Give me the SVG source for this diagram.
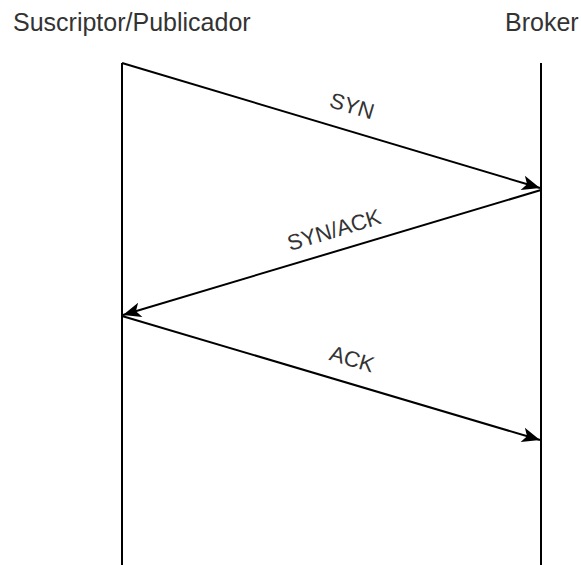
<svg xmlns="http://www.w3.org/2000/svg" width="581" height="565" viewBox="0 0 581 565">
  <style>
    .title { font-family: "Liberation Sans", Arial, sans-serif; font-size: 25px; fill: #333333; }
    .label { font-family: "Liberation Sans", Arial, sans-serif; font-size: 22px; fill: #333333; text-anchor: middle; dominant-baseline: central; }
    .lifeline { stroke: #000000; stroke-width: 2; fill: none; }
    .msg { stroke: #000000; stroke-width: 2; fill: none; marker-end: url(#arrow); }
  </style>
  <defs>
    <marker id="arrow" markerUnits="userSpaceOnUse" markerWidth="24" markerHeight="20" viewBox="-20 -10 24 20" refX="0" refY="0" orient="auto">
      <path d="M0,0 L-18,-7.5 L-13.5,0 L-18,7.5 Z" fill="#000000"/>
    </marker>
  </defs>
  <rect width="581" height="565" fill="#ffffff"/>

  <g id="participant-client">
    <text class="title" x="13" y="31">Suscriptor/Publicador</text>
    <line class="lifeline" x1="122" y1="63" x2="122" y2="565"/>
  </g>
  <g id="participant-broker">
    <text class="title" x="505" y="31">Broker</text>
    <line class="lifeline" x1="541" y1="63" x2="541" y2="565"/>
  </g>

  <g id="connectors">
    <path class="msg" d="M122,63 L540,188"/>
    <path class="msg" d="M541,190 L123,315"/>
    <path class="msg" d="M122,316 L540,440"/>
  </g>

  <g id="labels">
    <text class="label" transform="translate(352,106) rotate(16.7)">SYN</text>
    <text class="label" transform="translate(334,230) rotate(-16.7)">SYN/ACK</text>
    <text class="label" transform="translate(352,359) rotate(16.5)">ACK</text>
  </g>
</svg>
